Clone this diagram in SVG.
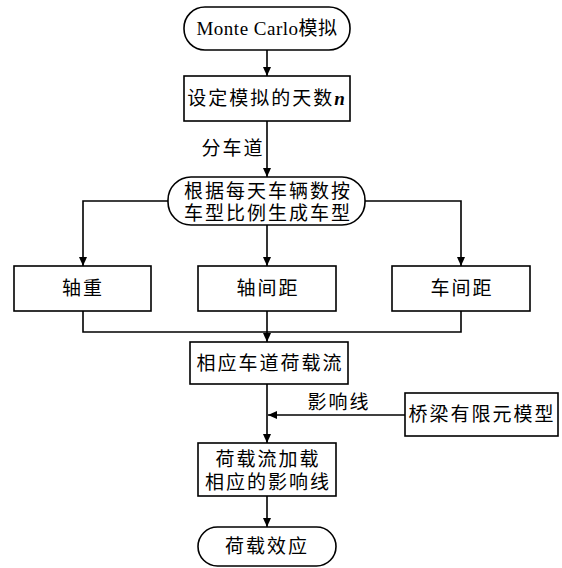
<svg xmlns="http://www.w3.org/2000/svg" width="562" height="568" viewBox="0 0 562 568">
<defs>
<marker id="ah" markerWidth="10" markerHeight="10" refX="9" refY="5" orient="auto" markerUnits="userSpaceOnUse">
<path d="M0,1 L9,5 L0,9 Z" fill="#000"/>
</marker>
<style>
.box{fill:#fff;stroke:#000;stroke-width:1.6}
.ln{fill:none;stroke:#000;stroke-width:1.6}
.t{font-family:"Liberation Serif","Noto Sans CJK SC",serif;font-size:19px;fill:#000;text-anchor:middle;letter-spacing:2px}
</style>
</defs>
<rect width="562" height="568" fill="#fff"/>
<g id="connectors">
<path class="ln" d="M267,50 V76" marker-end="url(#ah)"/>
<path class="ln" d="M267,121 V177" marker-end="url(#ah)"/>
<path class="ln" d="M168,201 H83 V266" marker-end="url(#ah)"/>
<path class="ln" d="M267,225 V266" marker-end="url(#ah)"/>
<path class="ln" d="M365,201 H461 V266" marker-end="url(#ah)"/>
<path class="ln" d="M83,311 V332 H461 V311"/>
<path class="ln" d="M267,311 V342" marker-end="url(#ah)"/>
<path class="ln" d="M267,384 V443" marker-end="url(#ah)"/>
<path class="ln" d="M405,415 H268" marker-end="url(#ah)"/>
<path class="ln" d="M267,496 V527" marker-end="url(#ah)"/>
<text class="t" x="233" y="155">分车道</text>
<text class="t" x="339" y="409">影响线</text>
</g>
<g id="n1">
<rect class="box" x="184" y="7" width="166" height="43" rx="21"/>
<text class="t" x="267" y="35" style="letter-spacing:0.5px">Monte Carlo模拟</text>
</g>
<g id="n2">
<rect class="box" x="184" y="76" width="166" height="45"/>
<text class="t" x="267" y="105">设定模拟的天数<tspan font-style="italic" font-weight="bold">n</tspan></text>
</g>
<g id="n3">
<rect class="box" x="168" y="177" width="197" height="48" rx="23"/>
<text class="t" x="268" y="198">根据每天车辆数按</text>
<text class="t" x="268" y="220">车型比例生成车型</text>
</g>
<g id="n4">
<rect class="box" x="14" y="266" width="137" height="45"/>
<text class="t" x="83" y="295">轴重</text>
</g>
<g id="n5">
<rect class="box" x="198" y="266" width="138" height="45"/>
<text class="t" x="268" y="295">轴间距</text>
</g>
<g id="n6">
<rect class="box" x="392" y="266" width="138" height="45"/>
<text class="t" x="462" y="295">车间距</text>
</g>
<g id="n7">
<rect class="box" x="190" y="342" width="158" height="42"/>
<text class="t" x="270" y="370">相应车道荷载流</text>
</g>
<g id="n8">
<rect class="box" x="405" y="393" width="153" height="43"/>
<text class="t" x="482" y="421">桥梁有限元模型</text>
</g>
<g id="n9">
<rect class="box" x="198" y="443" width="138" height="53"/>
<text class="t" x="268" y="466">荷载流加载</text>
<text class="t" x="268" y="489">相应的影响线</text>
</g>
<g id="n10">
<rect class="box" x="198" y="527" width="138" height="39" rx="19.5"/>
<text class="t" x="267" y="553">荷载效应</text>
</g>
</svg>
